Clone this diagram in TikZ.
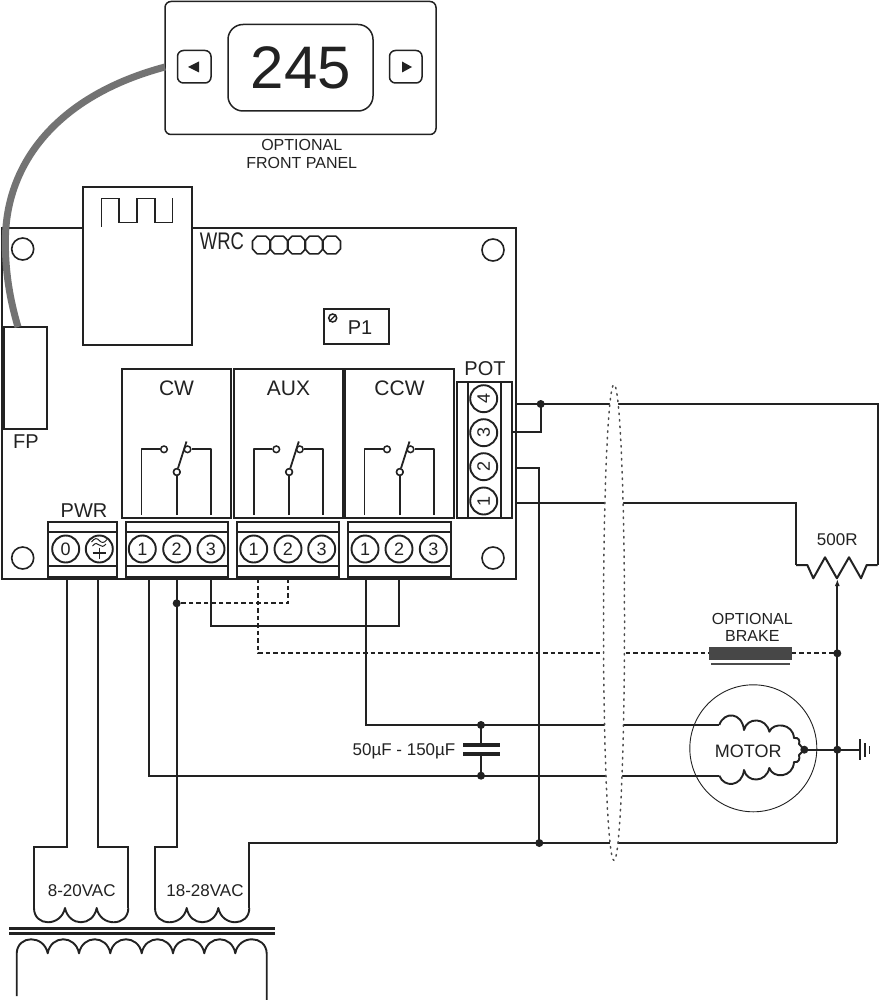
\documentclass[tikz,border=0pt]{standalone}
\usepackage{fontspec}
\usepackage{graphicx}
\setmainfont{Liberation Sans}
\usetikzlibrary{arrows.meta,calc,shapes.geometric}
\definecolor{ink}{HTML}{222222}
\tikzset{
  every node/.style={text=ink},
  fs/.style={font=\fontsize{#1}{#1}\selectfont},
  ln/.style={draw=ink,line width=2pt,line join=miter},
  wire/.style={draw=ink,line width=2pt,line join=miter},
  thinl/.style={draw=ink,line width=1.4pt,line join=round},
  hollow/.style={draw=ink,line width=2pt,fill=white,inner sep=0pt,rectangle},
  pan/.style={draw=ink,line width=1.5pt,fill=white,inner sep=0pt,rectangle,rounded corners=#1},
  term/.style={draw=ink,line width=1.9pt,fill=white,circle,inner sep=0pt,minimum size=27pt,fs=18},
  hole/.style={draw=ink,line width=1.6pt,circle,inner sep=0pt,minimum size=22pt},
  contact/.style={draw=ink,line width=1.5pt,fill=white,circle,inner sep=0pt,minimum size=6.6pt},
  junction/.style={fill=ink,circle,inner sep=0pt,minimum size=8pt},
  dashw/.style={draw=ink,line width=2pt,dash pattern=on 4.5pt off 3pt},
  wrcpin/.style={draw=ink,line width=1.6pt,line join=round},
}
\newcommand\bx[6]{%
  \pgfmathsetmacro\bxw{#5-#3}\pgfmathsetmacro\bxh{#6-#4}%
  \pgfmathsetmacro\bxx{(#5+#3)/2}\pgfmathsetmacro\bxy{(#6+#4)/2}%
  \node[#1,minimum width=\bxw pt,minimum height=\bxh pt] (#2) at (\bxx,\bxy) {};}
% relay: name, left x of box, right x of box, label
\newcommand\relay[4]{%
  \bx{hollow}{#1}{#2}{368.5}{#3}{518}
  \node[fs=21] (#1-label) at ($(#1.north)+(0,21)$) {#4};
  \coordinate (#1-nl) at (#2+19.4,515);
  \coordinate (#1-nc) at (#2+54.8,515);
  \coordinate (#1-nr) at (#2+88.6,515);
  \node[contact] (#1-a) at (#2+42,449.3) {};
  \node[contact] (#1-b) at (#2+65.5,449.3) {};
  \node[contact] (#1-c) at (#2+54.8,472) {};
  \draw[thinl,line width=1.8pt] (#1-nl) |- (#1-a.west);
  \draw[thinl,line width=1.8pt] (#1-nr) |- (#1-b.east);
  \draw[thinl,line width=1.8pt] (#1-nc) -- (#1-c.south);
  \coordinate (#1-tip) at (#2+64.5,441.5);
  \draw[thinl,line width=1.8pt] (#1-c) -- (#1-tip);
  \node[contact] at (#1-c) {};
}
% terminal block with three screws
\newcommand\tblock[6]{%
  \bx{hollow}{#1}{#2}{521.7}{#3}{576.7}
  \draw[ln] (#2,532.3) -- (#3,532.3) (#2,565.7) -- (#3,565.7);
  \node[term] (#1-1) at (#4,549) {1};
  \node[term] (#1-2) at (#5,549) {2};
  \node[term] (#1-3) at (#6,549) {3};
}
\begin{document}
\begin{tikzpicture}[x=1pt,y=-1pt]
\useasboundingbox (0,0) rectangle (879,1000);
\fill[white] (0,0) rectangle (879,1000);

% ---- board
\bx{draw=ink,line width=2pt,inner sep=0pt}{board}{1.5}{228}{515.5}{579}
\node[hole] (h1) at (22.7,249) {};
\node[hole] (h2) at (493,250) {};
\node[hole] (h3) at (22.7,558) {};
\node[hole] (h4) at (493,558) {};

% ---- radio module
\bx{hollow}{wrcmod}{82.7}{186.8}{192}{345}
\coordinate (sq0) at (101.7,226.7);
\coordinate (sq1) at (172.7,198.3);
\draw[thinl,line join=miter] (sq0) -- (101.7,198.3) -- (119,198.3) -- (119,222.7) -- (137,222.7) -- (137,198.3) -- (155,198.3) -- (155,222.7) -- (172.7,222.7) -- (sq1);
\node[fs=24] (wrclabel) at (222,241) {\scalebox{0.77}[1]{WRC}};
\foreach \c in {261.5,279,296.5,314,331.5}{
  \draw[wrcpin] (\c-9,241) -- (\c-4.5,236.2) -- (\c+4.5,236.2) -- (\c+9,241) -- (\c+9,249) -- (\c+4.5,253.8) -- (\c-4.5,253.8) -- (\c-9,249) -- cycle;
}

% ---- P1 trimmer
\bx{hollow}{p1}{324}{309}{389}{344}
\node[draw=ink,line width=1.5pt,circle,inner sep=0pt,minimum size=8pt] (screw) at (332.7,318) {};
\draw[ink,line width=1.3pt] (screw.south west) -- (screw.north east);
\node[fs=20] (p1label) at (360,328) {P1};

% ---- FP connector
\bx{hollow}{fp}{4}{326.7}{46.7}{429}
\node[fs=20] (fplabel) at (26,442) {FP};

% ---- front panel
\bx{pan=6pt}{panel}{165}{1.5}{436}{134.5}
\bx{pan=15pt}{display}{228}{24.5}{373}{111}
\bx{pan=6pt}{btnl}{177.5}{50.5}{211}{83}
\bx{pan=6pt}{btnr}{389.5}{50.5}{422}{83}
\fill[ink] (188,67) -- (199,61.5) -- (199,72.5) -- cycle;
\fill[ink] (412,67) -- (402,61.5) -- (402,72.5) -- cycle;
\node[fs=60] (disp) at (301,68) {245};
\node[font=\fontsize{16}{17.6}\selectfont,align=center] (panlabel) at (301.7,154) {OPTIONAL\\FRONT PANEL};

% ---- cable
\coordinate (cabA) at (165,67);
\coordinate (cabB) at (5.5,235);
\coordinate (cabC) at (18,327);
\draw[draw=black!55,line width=7pt] (cabA) .. controls (60,95) and (8,160) .. (cabB) .. controls (4.5,270) and (10,300) .. (cabC);

% ---- relays
\relay{cw}{122}{231}{CW}
\relay{aux}{234.3}{342.7}{AUX}
\relay{ccw}{345}{454}{CCW}

% ---- terminal blocks
\bx{hollow}{pwr}{48.3}{521.7}{117}{576.7}
\draw[ln] (48.3,532.3) -- (117,532.3) (48.3,565.7) -- (117,565.7);
\node[term] (pwr0) at (65.7,549) {0};
\node[term] (pwr1) at (99.3,549) {};
\draw[ink,line width=1pt] (91.5,542) .. controls (95,537.5) and (97,538) .. (99.3,540.5) .. controls (101.5,543) and (104,543.5) .. (107,539.5);
\draw[ink,line width=1pt] (92.5,546) .. controls (95.5,542.5) and (97,543) .. (99.3,545) .. controls (101.5,547) and (103.5,547) .. (106,544);
\draw[ink,line width=1.2pt] (92.5,553) -- (106,553) (99.3,547.5) -- (99.3,559);
\node[fs=20] (pwrlabel) at (84,511) {PWR};
\tblock{tcw}{125.7}{228.3}{142.3}{176.7}{211}
\tblock{taux}{236.7}{339.3}{253.7}{288}{321.7}
\tblock{tccw}{347.7}{450.7}{365}{399}{433.3}

% ---- POT block
\bx{hollow}{pot}{457.3}{381.7}{511.7}{518.3}
\draw[ln] (467.7,381.7) -- (467.7,518.3) (500.7,381.7) -- (500.7,518.3);
\node[term,rotate=90] (pot4) at (483.7,398.7) {4};
\node[term,rotate=90] (pot3) at (483.7,432.7) {3};
\node[term,rotate=90] (pot2) at (483.7,466.7) {2};
\node[term,rotate=90] (pot1) at (483.7,501) {1};
\node[fs=20] (potlabel) at (485,369) {POT};

% ---- junctions and wire ends
\coordinate (w4) at (515.5,404);
\coordinate (w3) at (511.7,432);
\coordinate (w2) at (515.5,468);
\coordinate (w1) at (515.5,503);
\coordinate (j4) at (540.7,404);
\coordinate (j2) at (539.3,843);
\coordinate (rL) at (796,565);
\coordinate (rR) at (877.7,565);
\coordinate (wipA) at (837.3,579);
\coordinate (wipB) at (837.3,843);
\coordinate (jBrake) at (837.3,653.3);
\coordinate (jGnd) at (837.3,749.7);
\coordinate (gnd) at (860,749.7);
\coordinate (jMotor) at (804.3,749.7);
\coordinate (mU) at (719.3,725);
\coordinate (mL) at (719.3,775.7);
\coordinate (cU) at (481,725);
\coordinate (cL) at (481,775.7);
\coordinate (j3) at (176.7,603.3);
\coordinate (o0) at (66.7,578);
\coordinate (o1) at (98.3,578);
\coordinate (c1) at (149.3,578);
\coordinate (c2) at (176.7,578);
\coordinate (c3) at (210.7,578);
\coordinate (a1) at (258.3,578);
\coordinate (a2) at (288,578);
\coordinate (d1) at (365.7,578);
\coordinate (d2) at (399,578);
\coordinate (d3) at (399,626);
\coordinate (s1a) at (34,908);
\coordinate (s1d) at (128.3,908);
\coordinate (s2a) at (155,908);
\coordinate (s2d) at (249.3,908);
\coordinate (bA) at (709.3,653.3);
\coordinate (bB) at (791.7,653.3);
\coordinate (tr0) at (66.7,846.7);
\coordinate (tr1) at (98.3,846.7);
\coordinate (tr2) at (176.7,846.7);
\coordinate (rTop) at (877.7,404);

% ---- wires
\draw[wire] (w4) -- (j4) -- (rTop) -- (rR);
\draw[wire] (w3) -| (j4);
\draw[wire] (w2) -| (j2);
\draw[wire] (w1) -| (rL);
\draw[wire] (d1) |- (mU);
\draw[wire] (c1) |- (mL);
\draw[wire] (c3) |- (d3) -- (d2);
\draw[wire] (o0) -- (tr0) -| (s1a);
\draw[wire] (o1) -- (tr1) -| (s1d);
\draw[wire] (c2) -- (tr2) -| (s2a);
\draw[wire] (s2d) |- (wipB);
\draw[dashw] (a2) |- (j3);
\draw[dashw] (a1) |- (bA);
\draw[dashw] (bB) -- (jBrake);
\draw[wire,-{Latex[length=7pt,width=5pt]}] (wipB) -- (wipA);

% ---- shield
\node[draw=black!70,fill=white,line width=1.5pt,dash pattern=on 1.5pt off 5pt,line cap=round,ellipse,minimum width=21pt,minimum height=476pt,inner sep=0pt] (shield) at (614,622.5) {};

% ---- resistor
\draw[wire,line join=round] (rL) -- (807.3,565) -- (813.3,578.3) -- (825,557.3) -- (836.9,578.3) -- (849,557.3) -- (861,578.3) -- (866.7,565) -- (rR);
\node[fs=17] (rlabel) at (837.3,540) {500R};

% ---- brake
\bx{fill=black!72,inner sep=0pt}{brake}{709.3}{647.3}{791.7}{660}
\draw[draw=black!70,line width=2.2pt] (711.3,664.2) -- (790,664.2);
\node[font=\fontsize{16}{17.4}\selectfont,align=center] (brakelabel) at (752.3,627.5) {OPTIONAL\\BRAKE};

% ---- motor
\node[draw=ink,line width=0.9pt,circle,inner sep=0pt,minimum size=127pt] (motor) at (753.3,748.3) {};
\node[fs=18] (motorlabel) at (748.3,751.7) {MOTOR};
\draw[wire,line width=1.9pt,line join=round] (mU) .. controls (724,711) and (742,712) .. (744,730) .. controls (747,717) and (766,717) .. (769.3,731.7) .. controls (773,722) and (793,723) .. (794,738) .. controls (799,737) and (800,741) .. (799,744) -- (jMotor);
\draw[wire,line width=1.9pt,line join=round] (mL) .. controls (724,788) and (742,787) .. (744,770) .. controls (747,783) and (766,783) .. (769.3,768) .. controls (773,779) and (793,778) .. (794,762) .. controls (799,763) and (800,759) .. (799,755) -- (jMotor);
\draw[wire] (jMotor) -- (gnd);
\draw[wire] (860,739.3) -- (860,760);
\draw[ink,line width=1.8pt] (865,743) -- (865,757);
\draw[ink,line width=1.6pt] (869.3,746) -- (869.3,754);

% ---- capacitor
\coordinate (cp1) at (481,745);
\coordinate (cp2) at (481,753.7);
\draw[wire] (cU) -- (cp1);
\draw[wire] (cL) -- (cp2);
\draw[ink,line width=4pt] (463.3,745) -- (500.3,745) (463.3,753.7) -- (500.3,753.7);
\node[fs=17] (caplabel) at (404,751.7) {50µF - 150µF};

% ---- transformer
\node[fs=17] (lab8) at (81.7,890.7) {8-20VAC};
\node[fs=17] (lab18) at (205,890.7) {18-28VAC};
\draw[wire,line width=1.9pt,line join=round] (s1a) .. controls (34,927) and (61,927) .. (65,908) .. controls (69,927) and (93,927) .. (96.7,908) .. controls (100,927) and (128.3,927) .. (s1d);
\draw[wire,line width=1.9pt,line join=round] (s2a) .. controls (155,927) and (183,927) .. (186.7,908) .. controls (190,927) and (214.5,927) .. (218.3,908) .. controls (222,927) and (249.3,927) .. (s2d);
\draw[ink,line width=3pt] (9.3,928) -- (275,928) (9.3,933.2) -- (275,933.2);
\coordinate (pa) at (16.7,996);
\coordinate (pb) at (266.7,1000);
\draw[wire,line width=1.9pt,line join=round] (pa) -- (16.7,953.3) .. controls (17.5,934.6) and (44,934.6) .. (47.7,953.3)
  .. controls (51,934.6) and (75.5,934.6) .. (79,953.3)
  .. controls (82.5,934.6) and (107,934.6) .. (110.3,953.3)
  .. controls (113.5,934.6) and (138.5,934.6) .. (141.7,953.3)
  .. controls (145,934.6) and (170,934.6) .. (173,953.3)
  .. controls (176,934.6) and (201,934.6) .. (204.3,953.3)
  .. controls (207.5,934.6) and (232,934.6) .. (235.3,953.3)
  .. controls (238.5,934.6) and (266,934.6) .. (266.7,953.3) -- (pb);

% ---- dots
\foreach \p in {j4,j2,jBrake,jGnd,jMotor,cU,cL,j3}{\node[junction] at (\p) {};}
\end{tikzpicture}
\end{document}
